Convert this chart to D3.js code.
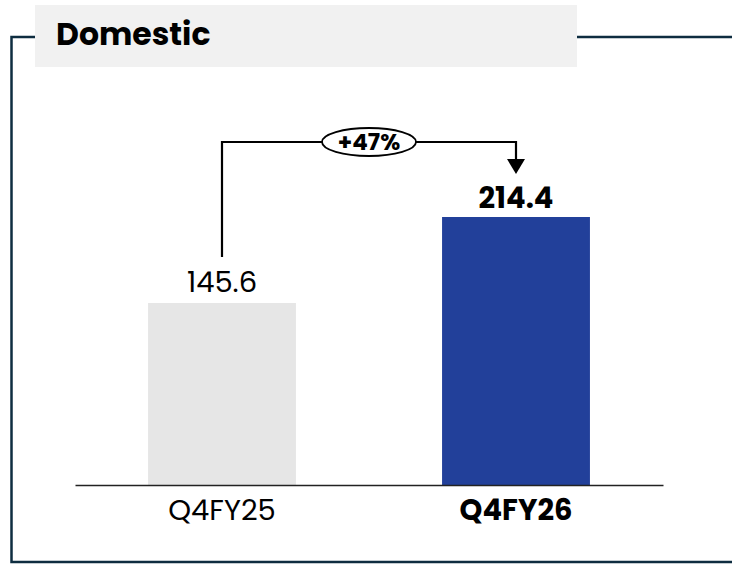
<!DOCTYPE html>
<head>
  <meta charset="utf-8">
  <script src="https://d3js.org/d3.v7.min.js"></script>
  <style>
    body { margin:0; background:#fff; }
    text { font-family: Poppins, Inter, sans-serif; }
  </style>
</head>
<body>
  <script>
    var title = "Domestic";
    var categories = ["Q4FY25", "Q4FY26"];
    var values = [145.6, 214.4];
    var valueLabels = ["145.6", "214.4"];
    var changeLabel = "+47%";

    var W = 732, H = 564;
    var svg = d3.select("body").append("svg")
      .attr("width", W)
      .attr("height", H);

    // frame + title box
    svg.append("rect")
      .attr("x", 35).attr("y", 5)
      .attr("width", 542).attr("height", 62)
      .attr("fill", "#f1f1f1");
    svg.append("path")
      .attr("d", "M35,37H11.5V562H732M577,37H732")
      .attr("fill", "none")
      .attr("stroke", "#0e2d40")
      .attr("stroke-width", 2.5);
    svg.append("text")
      .attr("x", 56).attr("y", 45)
      .attr("font-size", 31.5)
      .attr("font-weight", 700)
      .attr("fill", "#000")
      .text(title);

    var x = d3.scaleBand()
      .domain(categories)
      .range([75, 663])
      .paddingInner(0.497)
      .paddingOuter(0.2485);

    var y = d3.scaleLinear()
      .domain([0, 214.4])
      .range([485, 217]);

    var colors = ["#e6e6e6", "#22409a"];

    svg.selectAll("rect.bar")
      .data(values)
      .enter().append("rect")
      .attr("class", "bar")
      .attr("x", function(d, i) { return x(categories[i]); })
      .attr("y", function(d) { return y(d); })
      .attr("width", x.bandwidth())
      .attr("height", function(d) { return y(0) - y(d); })
      .attr("fill", function(d, i) { return colors[i]; });

    // baseline axis
    var axis = svg.append("g")
      .attr("transform", "translate(0," + y(0) + ")")
      .call(d3.axisBottom(x).tickSize(0).tickPadding(14));
    axis.select(".domain").attr("stroke", "#222").attr("stroke-width", 1.6);
    axis.selectAll(".tick text")
      .attr("font-size", 29)
      .attr("fill", "#000")
      .attr("font-weight", function(d, i) { return i == 1 ? 700 : 400; })
      .style("font-family", "Poppins, Inter, sans-serif");

    // value labels
    svg.selectAll("text.val")
      .data(values)
      .enter().append("text")
      .attr("class", "val")
      .attr("x", function(d, i) { return x(categories[i]) + x.bandwidth() / 2; })
      .attr("y", function(d, i) { return y(d) - (i == 0 ? 11 : 9); })
      .attr("text-anchor", "middle")
      .attr("font-size", 29)
      .attr("font-weight", function(d, i) { return i == 1 ? 700 : 400; })
      .attr("fill", "#000")
      .text(function(d, i) { return valueLabels[i]; });

    // growth arrow
    var x0 = x(categories[0]) + x.bandwidth() / 2;
    var x1 = x(categories[1]) + x.bandwidth() / 2;
    var topY = 142;
    svg.append("path")
      .attr("d", "M" + x0 + "," + (y(values[0]) - 46) + "V" + topY + "H" + x1 + "V" + 162)
      .attr("fill", "none")
      .attr("stroke", "#000")
      .attr("stroke-width", 2.2);
    svg.append("path")
      .attr("d", "M" + (x1 - 9) + "," + 159 + "L" + (x1 + 9) + "," + 159 + "L" + x1 + "," + 174 + "Z")
      .attr("fill", "#000");
    var mx = (x0 + x1) / 2;
    svg.append("ellipse")
      .attr("cx", mx).attr("cy", topY)
      .attr("rx", 47).attr("ry", 14)
      .attr("fill", "#fff")
      .attr("stroke", "#000")
      .attr("stroke-width", 1.8);
    svg.append("text")
      .attr("x", mx).attr("y", topY + 8)
      .attr("text-anchor", "middle")
      .attr("font-size", 23)
      .attr("font-weight", 700)
      .attr("fill", "#000")
      .text(changeLabel);
  </script>
</body>
